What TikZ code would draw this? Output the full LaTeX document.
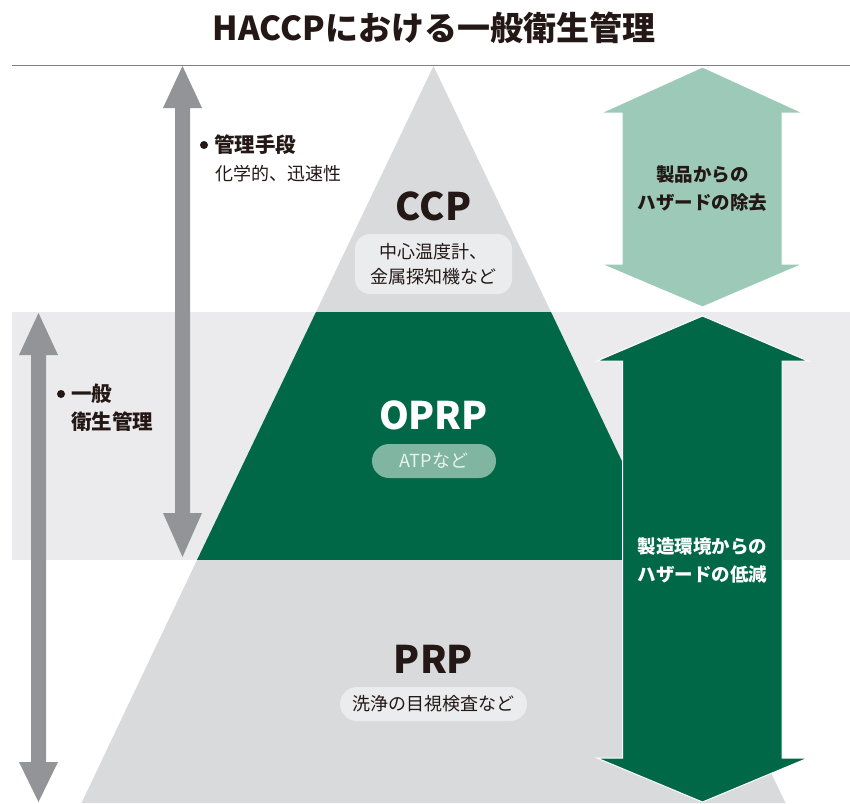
\documentclass[tikz,border=0pt]{standalone}
\usepackage{fontspec}
\setmainfont{Noto Sans CJK JP}
\definecolor{dgreen}{HTML}{006847}
\definecolor{lgreen}{HTML}{9DC9B9}
\definecolor{atpbox}{HTML}{7FB5A1}
\definecolor{pyr}{HTML}{D9DADC}
\definecolor{band}{HTML}{EBEBED}
\definecolor{boxf}{HTML}{EBECEE}
\definecolor{garrow}{HTML}{939498}
\definecolor{ink}{HTML}{231815}
\tikzset{
  big/.style={font=\fontsize{38}{42}\selectfont\bfseries, inner sep=0pt},
  lbl/.style={font=\fontsize{18.5}{28}\selectfont\bfseries, inner sep=0pt, text=ink},
  side/.style={font=\fontsize{20.5}{28}\selectfont\bfseries, inner sep=0pt, text=ink},
  sub/.style={font=\fontsize{18}{25}\selectfont, inner sep=0pt, text=ink},
  pill/.style={rounded corners=15pt, inner sep=0pt},
}
\begin{document}
\begin{tikzpicture}[x=1pt,y=-1pt]
\useasboundingbox (0,0) rectangle (850,803);
% background band
\fill[band] (12,312) rectangle (850,560);
% top line
\draw[line width=1.5pt, color=black!50] (12,65.5) -- (850,65.5);
% pyramid
\fill[pyr] (433.5,66) -- (551,312) -- (316,312) -- cycle;
\fill[dgreen] (316,312) -- (551,312) -- (669,560) -- (197,560) -- cycle;
\fill[pyr] (197,560) -- (669,560) -- (785.5,803) -- (81.5,803) -- cycle;
% right arrows
\filldraw[lgreen, draw=white, line width=1pt] (702.5,67) -- (803,113) -- (782,113) -- (782,264) -- (803,264) -- (702.5,307) -- (601,264) -- (622,264) -- (622,113) -- (601,113) -- cycle;
\filldraw[dgreen, draw=white, line width=1pt] (702.5,316) -- (808,361) -- (782,361) -- (782,758) -- (808,758) -- (702.5,802) -- (597,758) -- (622.5,758) -- (622.5,361) -- (597,361) -- cycle;
% left arrows
\fill[garrow] (182.5,66) -- (202,108) -- (190,108) -- (190,513) -- (202,513) -- (182.5,557) -- (163,513) -- (175,513) -- (175,108) -- (163,108) -- cycle;
\fill[garrow] (38.5,313) -- (58,355) -- (46,355) -- (46,762) -- (58,762) -- (38.5,802) -- (19,762) -- (31,762) -- (31,355) -- (19,355) -- cycle;
% title
\node[font=\fontsize{33}{36}\selectfont\bfseries, text=ink, inner sep=0pt] (title) at (434,28) {HACCPにおける一般衛生管理};
% left labels
\fill[ink] (204,145) circle (4);
\node[side, anchor=west] (kanri) at (214,145) {管理手段};
\node[sub, anchor=west] (kagaku) at (215,174) {化学的、迅速性};
\fill[ink] (61,394) circle (4);
\node[side, anchor=west] (ippan) at (71,394) {一般};
\node[side, anchor=west] (eisei) at (71,422) {衛生管理};
% CCP
\node[big, text=ink] (ccp) at (433.5,206) {CCP};
\node[pill, fill=boxf, minimum width=157pt, minimum height=60pt] (ccpbox) at (433.5,264) {};
\node[sub, align=center] (ccptext) at (ccpbox) {中心温度計、\\金属探知機など};
% OPRP
\node[big, text=white] (oprp) at (433.5,415) {OPRP};
\node[pill, rounded corners=17pt, fill=atpbox, minimum width=124pt, minimum height=34pt] (atpbox) at (434,461) {};
\node[sub, text=white!92!dgreen] (atptext) at (atpbox) {ATPなど};
% PRP
\node[big, text=ink] (prp) at (433.5,659) {PRP};
\node[pill, rounded corners=17pt, fill=boxf, minimum width=187pt, minimum height=34pt] (prpbox) at (433.5,704) {};
\node[sub] (prptext) at (prpbox) {洗浄の目視検査など};
% arrow labels
\node[lbl, align=center] (jokyo) at (702.5,189) {製品からの\\ハザードの除去};
\node[lbl, align=center, text=white] (teigen) at (702.5,560) {製造環境からの\\ハザードの低減};
\end{tikzpicture}
\end{document}
